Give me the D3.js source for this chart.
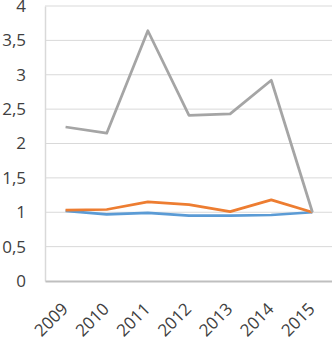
<!DOCTYPE html>
<html>
<head>
<meta charset="utf-8">
<script src="https://cdn.jsdelivr.net/npm/d3@7"></script>
<style>
  body { margin: 0; background: #fff; }
  svg { display: block; }
</style>
</head>
<body>
<div id="chart"></div>
<script>
// Data
const years = ['2009', '2010', '2011', '2012', '2013', '2014', '2015'];
const grayValues = [2.24, 2.15, 3.64, 2.41, 2.43, 2.92, 1.0];
const orangeValues = [1.03, 1.04, 1.15, 1.11, 1.01, 1.18, 1.0];
const blueValues = [1.02, 0.97, 0.99, 0.95, 0.95, 0.96, 1.0];
const yTicks = [0, 0.5, 1, 1.5, 2, 2.5, 3, 3.5, 4];

const width = 332, height = 338;
const margin = { top: 6, right: -1, bottom: 57, left: 45 };

const svg = d3.select('#chart')
	.append('svg')
	.attr('width', width)
	.attr('height', height);

const x = d3.scaleBand()
	.domain(years)
	.range([margin.left, width - margin.right]);

const y = d3.scaleLinear()
	.domain([0, 4])
	.range([height - margin.bottom, margin.top]);

const fmt = (d) => String(d).replace('.', ',');

// Gridlines
svg.append('g')
	.selectAll('line')
	.data(yTicks.filter((d) => d > 0))
	.enter()
	.append('line')
	.attr('x1', margin.left)
	.attr('x2', width)
	.attr('y1', (d) => y(d))
	.attr('y2', (d) => y(d))
	.attr('stroke', '#d9d9d9')
	.attr('stroke-width', 1);

// Y axis
const yAxis = svg.append('g')
	.attr('transform', `translate(${margin.left},0)`)
	.call(d3.axisLeft(y).tickValues(yTicks).tickSize(0).tickPadding(19).tickFormat(fmt));
yAxis.select('.domain').attr('stroke', '#d9d9d9').attr('stroke-width', 1.5);
yAxis.selectAll('text')
	.attr('fill', '#404040')
	.style('font-family', '"Open Sans", sans-serif')
	.style('font-size', '17px');

// X axis
const xAxis = svg.append('g')
	.attr('transform', `translate(0,${y(0)})`)
	.call(d3.axisBottom(x).tickSize(0).tickPadding(0));
xAxis.select('.domain').attr('stroke', '#bfbfbf').attr('stroke-width', 2);
xAxis.selectAll('text')
	.attr('fill', '#404040')
	.style('font-family', '"Open Sans", sans-serif')
	.style('font-size', '17px')
	.attr('text-anchor', 'end')
	.attr('y', 0)
	.attr('dy', 0)
	.attr('transform', 'translate(3.5,29) rotate(-45)');

// Lines
const line = d3.line()
	.x((d, i) => x(years[i]) + x.bandwidth() / 2)
	.y((d) => y(d));

const series = [
	{ values: grayValues, color: '#a5a5a5' },
	{ values: orangeValues, color: '#ed7d31' },
	{ values: blueValues, color: '#5b9bd5' },
];

svg.selectAll('path.series')
	.data(series.slice().reverse())
	.enter()
	.append('path')
	.attr('class', 'series')
	.attr('d', (d) => line(d.values))
	.attr('fill', 'none')
	.attr('stroke', (d) => d.color)
	.attr('stroke-width', 2.75)
	.attr('stroke-linejoin', 'round');
</script>
</body>
</html>
